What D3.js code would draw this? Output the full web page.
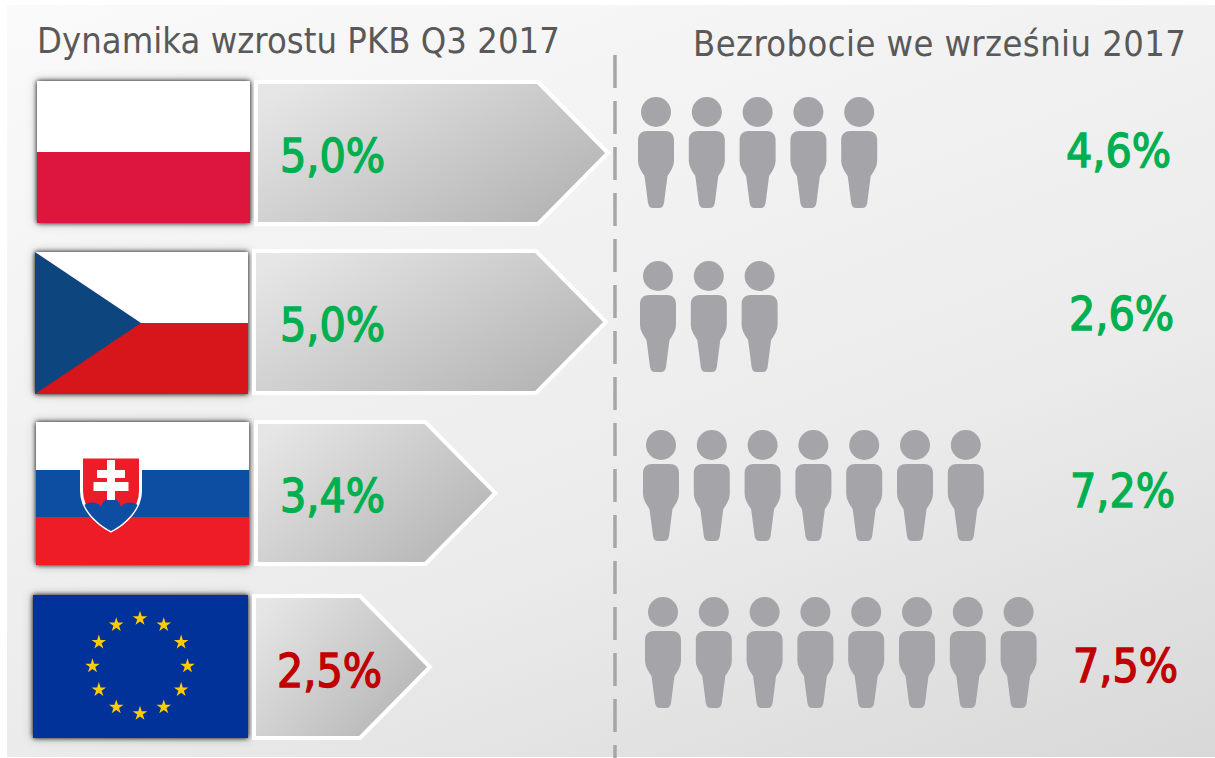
<!DOCTYPE html>
<meta charset="utf-8">
<style>
  body { margin: 0; background: #fff; }
  svg { display: block; }
  text { font-family: "DejaVu Sans Condensed", "DejaVu Sans", sans-serif; }
  .title { font-size: 36px; fill: #595959; }
  .value { font-size: 46px; stroke-width: 1.3px; }
  .person { fill: #a5a5a9; }
</style>

<body>
  <script src="https://d3js.org/d3.v7.min.js"></script>
  <script>

    // values
    var titles = ["Dynamika wzrostu PKB Q3 2017", "Bezrobocie we wrześniu 2017"];
    var countries = ["pl", "cz", "sk", "eu"];
    var gdp = [5.0, 5.0, 3.4, 2.5];
    var unemployment = [4.6, 2.6, 7.2, 7.5];
    var gdpColors = ["#00b050", "#00b050", "#00b050", "#c00000"];
    var unemploymentColors = ["#00b050", "#00b050", "#00b050", "#c00000"];

    // the rows are not quite aligned in the original, so keep the offsets per row
    var flagBox = [[37, 81], [35, 252], [36, 422], [33, 595]];
    var arrowBox = [[256, 82], [254, 251], [256, 422], [254, 596]];
    var gdpLabel = [[280, 172], [280, 341], [280, 512], [277, 687]];
    var personStart = [[656, 112], [658, 276], [661, 445], [663, 612]];
    var rateLabel = [[1066, 167], [1069, 330], [1070, 507], [1073, 682]];

    var width = 1215, height = 758;
    var flagW = 213, flagH = 142, arrowH = 142, headW = 70;

    var fmt = function (v) { return v.toFixed(1).replace(".", ",") + "%"; };

    // arrow length is proportional to the value (tip-to-base)
    var lengthScale = d3.scaleLinear().domain([0, 5]).range([0, 352]);
    // one person per rounded percentage point
    var personScale = d3.scaleLinear().domain([0, 1]).range([0, 50.8]);

    var svg = d3.select("body").append("svg")
      .attr("width", width)
      .attr("height", height);

    var defs = svg.append("defs");

    var bg = defs.append("linearGradient").attr("id", "bg")
      .attr("gradientUnits", "userSpaceOnUse")
      .attr("x1", 7).attr("y1", 5).attr("x2", 402).attr("y2", 1065);
    bg.append("stop").attr("offset", 0).attr("stop-color", "#fafafa");
    bg.append("stop").attr("offset", 0.375).attr("stop-color", "#f1f1f1");
    bg.append("stop").attr("offset", 0.625).attr("stop-color", "#ebebeb");
    bg.append("stop").attr("offset", 1).attr("stop-color", "#d8d8d8");

    var ag = defs.append("linearGradient").attr("id", "arrow")
      .attr("x1", 0).attr("y1", 0.15).attr("x2", 1).attr("y2", 0.85);
    ag.append("stop").attr("offset", 0).attr("stop-color", "#e6e6e6");
    ag.append("stop").attr("offset", 1).attr("stop-color", "#b2b2b2");

    // tight dark edge plus a wide faint halo
    var shadow = defs.append("filter").attr("id", "shadow")
      .attr("x", "-15%").attr("y", "-20%").attr("width", "130%").attr("height", "140%");
    shadow.append("feDropShadow")
      .attr("dx", 0).attr("dy", 0).attr("stdDeviation", 2.4)
      .attr("flood-color", "#000").attr("flood-opacity", 0.95);
    shadow.append("feDropShadow")
      .attr("dx", 0).attr("dy", 0).attr("stdDeviation", 5)
      .attr("flood-color", "#000").attr("flood-opacity", 0.22);

    // shield outline of the Slovak arms, used to clip the hills
    var shieldPath = "M-29.5,0H29.5V34C29.5,52 15,66 0,74C-15,66 -29.5,52 -29.5,34Z";
    defs.append("clipPath").attr("id", "shield")
      .append("path").attr("d", shieldPath);

    // background panel
    svg.append("rect")
      .attr("x", 7).attr("y", 5)
      .attr("width", width - 7).attr("height", height - 6)
      .attr("fill", "url(#bg)");

    // titles
    svg.append("text").attr("class", "title")
      .attr("x", 37).attr("y", 53)
      .style("letter-spacing", "0.05px")
      .text(titles[0]);
    svg.append("text").attr("class", "title")
      .attr("x", 693).attr("y", 56)
      .style("letter-spacing", "0.42px")
      .text(titles[1]);

    // divider
    svg.append("line")
      .attr("x1", 615).attr("x2", 615)
      .attr("y1", 55).attr("y2", height)
      .attr("stroke", "#a6a6a6")
      .attr("stroke-width", 3.5)
      .attr("stroke-dasharray", "33 13");

    // flags
    function bar(g, y, h, color) {
      g.append("rect").attr("y", y).attr("width", flagW).attr("height", h).attr("fill", color);
    }

    var flags = {
      pl: function (g) {
        bar(g, 0, 71, "#ffffff");
        bar(g, 71, 71, "#dc143c");
      },
      cz: function (g) {
        bar(g, 0, 71, "#ffffff");
        bar(g, 71, 71, "#d7141a");
        g.append("path").attr("d", "M0,0L106,71L0,142Z").attr("fill", "#11457e");
      },
      sk: function (g) {
        bar(g, 0, 48, "#ffffff");
        bar(g, 48, 47, "#0b4ea2");
        bar(g, 95, 48, "#ee1c25");
        var c = g.append("g").attr("transform", "translate(75,35)");
        c.append("path").attr("d", shieldPath).attr("fill", "#ee1c25")
          .attr("stroke", "#fff").attr("stroke-width", 3);
        c.append("path")
          .attr("clip-path", "url(#shield)")
          .attr("d", "M-32,80V54C-28,44 -13,43 -10,50C-7,38 7,38 10,50C13,43 28,44 32,54V80Z")
          .attr("fill", "#0b4ea2");
        c.append("path")
          .attr("d", "M-4,3H4V13H14V21H4V25H17.5V34H4V43H-4V34H-17.5V25H-4V21H-14V13H-4Z")
          .attr("fill", "#fff");
      },
      eu: function (g) {
        g.append("rect").attr("width", flagW + 2).attr("height", flagH + 1).attr("fill", "#003399");
        var star = d3.symbol().type(d3.symbolStar).size(66);
        g.selectAll("path.star")
          .data(d3.range(12))
          .enter().append("path")
          .attr("class", "star")
          .attr("d", star)
          .attr("fill", "#ffcc00")
          .attr("transform", function (i) {
            var a = i * Math.PI / 6;
            return "translate(" + (107 + 47.5 * Math.sin(a)) + "," + (71 - 47.5 * Math.cos(a)) + ")";
          });
      }
    };

    countries.forEach(function (c, i) {
      var g = svg.append("g")
        .attr("transform", "translate(" + flagBox[i] + ")")
        .attr("filter", "url(#shadow)");
      flags[c](g);
    });

    // GDP arrows
    svg.selectAll(".arrow")
      .data(gdp)
      .enter().append("path")
      .attr("class", "arrow")
      .attr("transform", function (d, i) { return "translate(" + arrowBox[i] + ")"; })
      .attr("fill", "url(#arrow)")
      .attr("stroke", "#fff")
      .attr("stroke-width", 4)
      .attr("d", function (d) {
        var l = lengthScale(d);
        return "M0,0H" + (l - headW) + "L" + l + "," + arrowH / 2 + "L" + (l - headW) + "," + arrowH + "H0Z";
      });

    svg.selectAll(".gdp")
      .data(gdp)
      .enter().append("text")
      .attr("class", "value gdp")
      .attr("x", function (d, i) { return gdpLabel[i][0]; })
      .attr("y", function (d, i) { return gdpLabel[i][1]; })
      .attr("fill", function (d, i) { return gdpColors[i]; })
      .attr("stroke", function (d, i) { return gdpColors[i]; })
      .text(fmt);

    // one silhouette, head centre at 0,0
    var personPath = "M-9,19H9C14,19 18,22 18,28V49C18,54 15,59 11.5,64L8,91C7.5,94 6,96 3,96H-3C-6,96 -7.5,94 -8,91L-11.5,64C-15,59 -18,54 -18,49V28C-18,22 -14,19 -9,19Z";

    var rows = svg.selectAll(".row")
      .data(unemployment)
      .enter().append("g")
      .attr("class", "row")
      .attr("transform", function (d, i) { return "translate(" + personStart[i] + ")"; });

    var people = rows.selectAll(".person")
      .data(function (d) { return d3.range(Math.round(d)); })
      .enter().append("g")
      .attr("class", "person")
      .attr("transform", function (k) { return "translate(" + personScale(k) + ",0)"; });

    people.append("circle").attr("r", 15);
    people.append("path").attr("d", personPath);

    svg.selectAll(".rate")
      .data(unemployment)
      .enter().append("text")
      .attr("class", "value rate")
      .attr("x", function (d, i) { return rateLabel[i][0]; })
      .attr("y", function (d, i) { return rateLabel[i][1]; })
      .attr("fill", function (d, i) { return unemploymentColors[i]; })
      .attr("stroke", function (d, i) { return unemploymentColors[i]; })
      .text(fmt);

  </script>
</body>
